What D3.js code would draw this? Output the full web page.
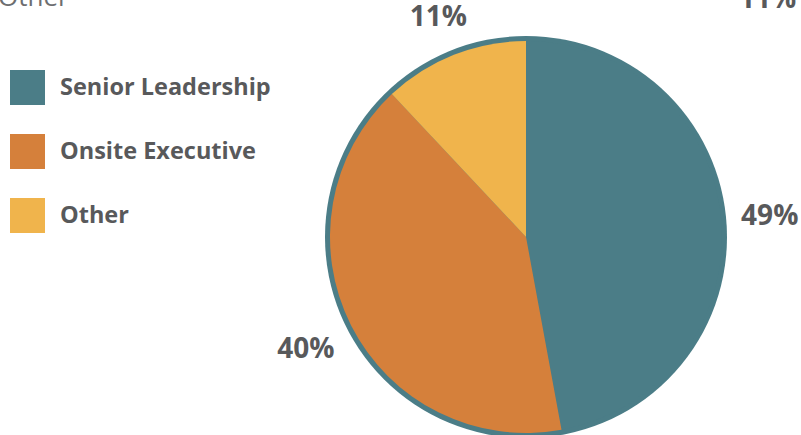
<!DOCTYPE html>
<html>
<head>
<meta charset="utf-8">
<script src="https://cdn.jsdelivr.net/npm/d3@7"></script>
<style>
  body { margin: 0; background: #fff; }
  svg { display: block; }
</style>
</head>
<body>
<div class="chart"></div>
<script>
// slice sizes as drawn, and the labels printed next to them
var categories = ['Senior Leadership', 'Onsite Executive', 'Other']
var values = [47.1, 40.9, 12.0]
var pctLabels = ['49%', '40%', '11%']
var colors = ['#4b7d87', '#d5803b', '#f0b44c']

var width = 801, height = 435
var cx = 526, cy = 237, radius = 196
var labelGap = 215   // distance from centre to the nearest edge of a label

var svg = d3.select('.chart')
  .append('svg')
    .attr('width', width)
    .attr('height', height)

// cut-off text from the previous chart above
svg.append('text')
  .attr('x', -2).attr('y', 6)
  .attr('font-family', 'Open Sans')
  .attr('font-size', 26)
  .attr('fill', '#6d6e70')
  .text('Other')
svg.append('text')
  .attr('x', 739).attr('y', 8)
  .attr('font-family', 'Open Sans')
  .attr('font-weight', 'bold')
  .attr('font-size', 28)
  .attr('fill', '#58595b')
  .text('11%')

var g = svg.append('g')
  .attr('transform', 'translate(' + cx + ',' + cy + ')')

// teal ring behind the pie
g.append('circle')
  .attr('r', radius + 5)
  .attr('fill', colors[0])

var pie = d3.pie().sort(null).value(function(d) { return d })
var arcs = pie(values)

var arc = d3.arc().innerRadius(0).outerRadius(radius)

g.selectAll('path.slice')
  .data(arcs)
  .enter().append('path')
    .attr('class', 'slice')
    .attr('d', arc)
    .attr('fill', function(d, i) { return colors[i] })

// percentage labels, pushed out so the box sits just outside the pie
g.selectAll('text.pct')
  .data(arcs)
  .enter().append('text')
    .attr('class', 'pct')
    .attr('text-anchor', 'middle')
    .attr('dy', '0.36em')
    .attr('font-family', 'Open Sans')
    .attr('font-weight', 'bold')
    .attr('font-size', 28)
    .attr('fill', '#58595b')
    .text(function(d, i) { return pctLabels[i] })
    .each(function(d) {
      var a = (d.startAngle + d.endAngle) / 2
      var s = Math.sin(a), c = Math.cos(a)
      var box = this.getBBox()
      var r = labelGap + Math.abs(s) * box.width / 2 + Math.abs(c) * box.height * 0.36
      d3.select(this).attr('transform', 'translate(' + (s * r) + ',' + (-c * r) + ')')
    })

// legend
var legend = svg.selectAll('g.legend')
  .data(categories)
  .enter().append('g')
    .attr('class', 'legend')
    .attr('transform', function(d, i) { return 'translate(10,' + (70 + i * 64) + ')' })

legend.append('rect')
  .attr('width', 35).attr('height', 35)
  .attr('fill', function(d, i) { return colors[i] })

legend.append('text')
  .attr('x', 50).attr('y', 17)
  .attr('dy', '0.36em')
  .attr('font-family', 'Open Sans')
  .attr('font-weight', 'bold')
  .attr('font-size', 23.5)
  .attr('fill', '#58595b')
  .text(function(d) { return d })
</script>
</body>
</html>
